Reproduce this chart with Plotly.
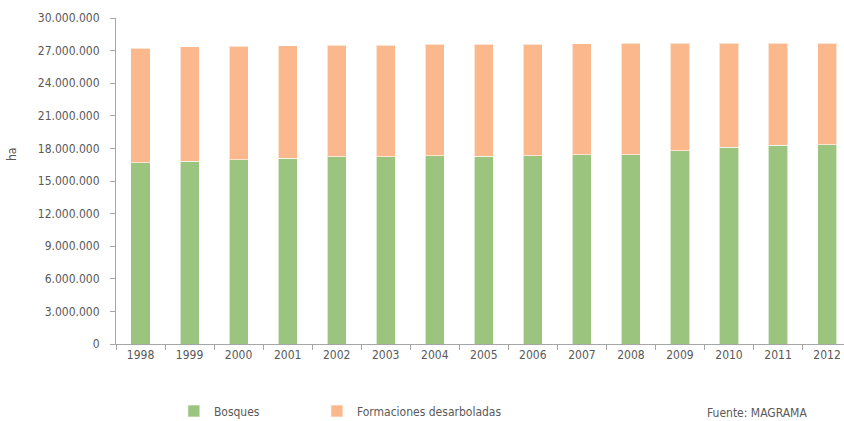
import plotly.graph_objects as go

years = ["1998", "1999", "2000", "2001", "2002", "2003", "2004", "2005",
         "2006", "2007", "2008", "2009", "2010", "2011", "2012"]
bosques = [16680000, 16840000, 16960000, 17110000, 17230000, 17230000, 17320000, 17270000,
           17320000, 17420000, 17420000, 17790000, 18100000, 18270000, 18340000]
desarboladas = [10550000, 10510000, 10450000, 10340000, 10270000, 10270000, 10250000, 10330000,
                10280000, 10210000, 10240000, 9870000, 9590000, 9390000, 9320000]
y_ticks = [0, 3000000, 6000000, 9000000, 12000000, 15000000, 18000000,
           21000000, 24000000, 27000000, 30000000]

FONT = "DejaVu Sans Condensed, Roboto, sans-serif"
GREY = "#595959"
FS = 12

fig = go.Figure()
fig.add_trace(go.Bar(x=years, y=bosques, name="Bosques", legend="legend",
                     marker=dict(color="#9BC57E", line=dict(color="rgba(255,255,255,0.6)", width=1))))
fig.add_trace(go.Bar(x=years, y=desarboladas, name="Formaciones desarboladas", legend="legend2",
                     marker=dict(color="#FBB88D", line=dict(color="rgba(255,255,255,0.6)", width=1))))

LEG_Y = (344 - 411) / 326
leg_common = dict(orientation="h", y=LEG_Y, xanchor="left", yanchor="middle",
                  bgcolor="rgba(0,0,0,0)",
                  font=dict(family=FONT, size=FS, color=GREY))
fig.update_layout(
    width=844, height=421,
    barmode="stack", bargap=0.61,
    separators=",.",
    plot_bgcolor="white", paper_bgcolor="white",
    margin=dict(l=116, r=0, t=18, b=77, autoexpand=False),
    font=dict(family=FONT, size=FS, color=GREY),
    showlegend=True,
    legend=dict(x=0.0795, **leg_common),
    legend2=dict(x=0.276, **leg_common),
)
fig.update_xaxes(
    type="category", range=[-0.5, 14.345], automargin=False,
    showline=True, linecolor="#A6A6A6", linewidth=1,
    ticks="outside", tickson="boundaries", ticklen=5, tickcolor="#A6A6A6",
    showgrid=False, tickfont=dict(size=FS, color=GREY),
)
fig.update_yaxes(
    range=[0, 30000000], tickvals=y_ticks, tickformat=",d", automargin=False,
    showline=True, linecolor="#A6A6A6", linewidth=1,
    ticks="outside", ticklen=5, tickcolor="#A6A6A6",
    showgrid=False, zeroline=False, tickfont=dict(size=FS, color=GREY),
    ticklabelstandoff=8,
)
fig.add_annotation(text="ha", xref="paper", yref="paper", x=(12 - 116) / 728, y=(344 - 155) / 326,
                   xanchor="center", yanchor="middle",
                   textangle=-90, showarrow=False, font=dict(size=FS, color=GREY))
fig.add_annotation(text="Fuente: MAGRAMA", xref="paper", yref="paper", x=(809 - 116) / 728,
                   y=(344 - 413) / 326,
                   xanchor="right", yanchor="middle", showarrow=False,
                   font=dict(size=FS, color=GREY))

fig.write_html("out.html", config={"displayModeBar": False},
               post_script="document.body.style.margin='0';")
